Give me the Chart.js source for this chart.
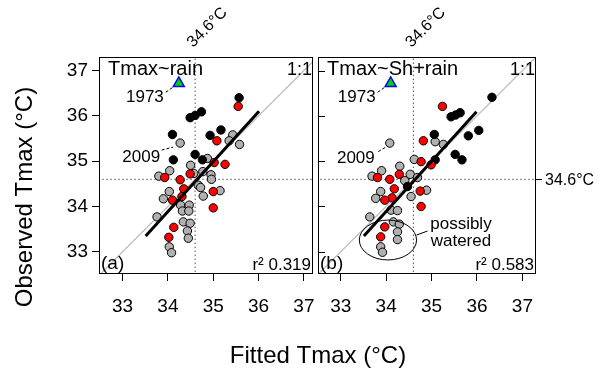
<!DOCTYPE html>
<html><head><meta charset="utf-8">
<script src="https://cdn.jsdelivr.net/npm/chart.js@4.4.1/dist/chart.umd.min.js"></script>
<style>
html,body{margin:0;padding:0;background:#fff;}
#wrap{position:relative;width:601px;height:369px;overflow:hidden;}
canvas{position:absolute;left:0;top:0;}
</style></head>
<body><div id="wrap"><canvas id="ca" width="601" height="369"></canvas><canvas id="cb" width="601" height="369"></canvas></div>
<script>
// ---------------- data ----------------
const tickValues = [33, 34, 35, 36, 37];
const thresholdC = 34.6;
const panelTags = ['(a)', '(b)'];
const modelNames = ['Tmax~rain', 'Tmax~Sh+rain'];
const r2Values = [0.319, 0.583];

// Panel (a): Tmax ~ rain  (x = fitted, y = observed)
const aGreyX  = [34.27,35.43,35.35,35.58,34.87,34.50,34.04,33.80,34.57,34.77,34.95,34.96,34.67,34.72,34.03,35.15,33.90,34.78,34.28,34.47,34.32,34.46,33.76,34.34,34.49,34.43,34.45,34.03,34.08];
const aGreyY  = [35.40,35.58,35.45,35.37,35.06,34.91,34.79,34.67,34.73,34.77,34.70,34.60,34.47,34.42,34.33,34.35,34.17,34.23,34.03,34.03,33.90,33.90,33.77,33.66,33.63,33.46,33.30,33.11,32.98];
const aBlackX = [35.57,34.49,34.60,34.74,34.10,34.93,35.17,34.12,34.60,34.76];
const aBlackY = [36.40,35.96,36.01,36.09,35.59,35.57,35.69,35.03,35.15,35.03];
const aRedX   = [35.55,35.08,35.02,35.26,33.93,34.27,34.49,34.35,34.31,34.10,35.00,35.00,34.13,34.02];
const aRedY   = [36.21,35.45,34.97,34.93,34.64,34.59,34.72,34.39,34.22,34.14,34.33,33.97,33.54,33.32];
const a1973   = [34.24, 36.72];
const a2009   = [34.27, 35.40];
const aFitX   = [33.51, 36.01];
const aFitY   = [33.35, 36.10];

// Panel (b): Tmax ~ Sh + rain
const bGreyX  = [34.08,35.08,35.26,34.62,33.69,33.90,34.30,34.53,34.41,34.69,34.89,34.55,33.88,33.77,34.11,34.25,33.64,34.16,34.29,34.25,34.25,33.88,33.92];
const bGreyY  = [35.40,35.43,35.37,35.04,34.67,34.79,34.89,34.71,34.57,34.64,34.36,34.22,34.33,34.18,33.92,33.91,33.77,33.66,33.61,33.44,33.27,33.11,32.99];
const bBlackX = [36.33,35.43,35.53,35.63,35.06,35.81,36.04,35.08,35.52,35.67,34.47];
const bBlackY = [36.41,35.98,36.02,36.07,35.59,35.56,35.68,35.03,35.15,35.03,34.44];
const bRedX   = [35.24,34.82,34.77,34.99,33.81,34.08,34.29,34.18,34.13,33.97,34.75,34.77,33.97,33.88];
const bRedY   = [36.21,35.45,34.99,34.92,34.64,34.60,34.71,34.39,34.19,34.14,34.34,34.00,33.55,33.33];
const b1973   = [34.10, 36.72];
const b2009   = [34.08, 35.40];
const bFitX   = [33.51, 35.99];
const bFitY   = [33.35, 36.09];
const wateredX = [33.41, 34.67];   // extent of the "possibly watered" ring
const wateredY = [32.82, 33.70];

// ---------------- drawing ----------------
const FONT = "'Liberation Sans', Arial, Helvetica, sans-serif";
const pts = (xs, ys) => xs.map((v, i) => ({x: v, y: ys[i]}));

function leader(ctx, x0, y0, x1, y1) {
  ctx.save(); ctx.setLineDash([3, 2]); ctx.lineWidth = 1;
  ctx.beginPath(); ctx.moveTo(x0, y0); ctx.lineTo(x1, y1); ctx.stroke(); ctx.restore();
}

const annotPlugin = {
  id: 'annot',
  afterDraw(chart, args, o) {
    const {ctx, chartArea: ca, scales: {x, y}} = chart;
    ctx.save();
    ctx.fillStyle = '#000'; ctx.strokeStyle = '#000'; ctx.lineWidth = 1;
    const L = Math.round(ca.left), T = Math.round(ca.top), R = Math.round(ca.right), B = Math.round(ca.bottom);
    ctx.strokeRect(L + 0.5, T + 0.5, R - L - 1, B - T - 1);
    ctx.textBaseline = 'alphabetic';
    ctx.font = `20px ${FONT}`; ctx.textAlign = 'left';
    ctx.fillText(o.model, L + 9, T + 18);
    ctx.font = `18px ${FONT}`; ctx.textAlign = 'right';
    ctx.fillText('1:1', R - 1, T + 18);
    ctx.font = `19px ${FONT}`; ctx.textAlign = 'left';
    ctx.fillText(o.tag, L + 2, B - 5);
    ctx.font = `17px ${FONT}`; ctx.textAlign = 'right';
    ctx.fillText('r\u00B2 ' + o.r2.toFixed(3), R - 2, B - 4);
    // 1973 label
    const tx = x.getPixelForValue(o.p1973[0]), ty = y.getPixelForValue(o.p1973[1]);
    ctx.fillText('1973', tx - 15, ty + 19);
    leader(ctx, tx - 13, ty + 9, tx - 6, ty + 4);
    // 2009 label
    const px = x.getPixelForValue(o.p2009[0]), py = y.getPixelForValue(o.p2009[1]);
    const s = o.lab2009;
    ctx.fillText('2009', px + s[0], py + s[1]);
    leader(ctx, px + s[2], py + s[3], px + s[4], py + s[5]);
    // rotated threshold label above the panel
    ctx.save();
    ctx.translate(x.getPixelForValue(thresholdC) - 2, T - 9);
    ctx.rotate(-45 * Math.PI / 180);
    ctx.font = `16px ${FONT}`; ctx.textAlign = 'left';
    ctx.fillText('34.6\u00B0C', 0, 0);
    ctx.restore();
    if (o.innerTicks) {
      ctx.beginPath();
      tickValues.forEach(v => { const yy = Math.round(y.getPixelForValue(v)) + 0.5; ctx.moveTo(L, yy); ctx.lineTo(L + 7, yy); });
      ctx.stroke();
    }
    if (o.rightLabel) {
      const yy = Math.round(y.getPixelForValue(thresholdC)) + 0.5;
      ctx.beginPath(); ctx.moveTo(R, yy); ctx.lineTo(R + 6, yy); ctx.stroke();
      ctx.font = `16px ${FONT}`; ctx.textAlign = 'left'; ctx.textBaseline = 'middle';
      ctx.fillText('34.6\u00B0C', R + 9, yy + 1);
      ctx.textBaseline = 'alphabetic';
    }
    if (o.watered) {
      const x0 = x.getPixelForValue(wateredX[0]), x1 = x.getPixelForValue(wateredX[1]);
      const y0 = y.getPixelForValue(wateredY[0]), y1 = y.getPixelForValue(wateredY[1]);
      const cx = (x0 + x1) / 2, cy = (y0 + y1) / 2, rx = Math.abs(x1 - x0) / 2, ry = Math.abs(y1 - y0) / 2;
      ctx.beginPath(); ctx.ellipse(cx, cy, rx, ry, 0, 0, Math.PI * 2); ctx.stroke();
      ctx.beginPath(); ctx.moveTo(cx + rx, cy - 5); ctx.lineTo(cx + rx + 11, cy - 9); ctx.stroke();
      ctx.font = `17px ${FONT}`; ctx.textAlign = 'center';
      ctx.fillText('possibly', cx + 73, cy - 11);
      ctx.fillText('watered', cx + 73, cy + 6);
    }
    if (o.yTitle) {
      ctx.save(); ctx.translate(32, 197); ctx.rotate(-Math.PI / 2);
      ctx.font = `24px ${FONT}`; ctx.textAlign = 'center';
      ctx.fillText(o.yTitle, 0, 0); ctx.restore();
    }
    if (o.xTitle) {
      ctx.font = `24px ${FONT}`; ctx.textAlign = 'center';
      ctx.fillText(o.xTitle, 318, 363);
    }
    ctx.restore();
  }
};

function axisX(min, max) {
  return {
    type: 'linear', min, max,
    afterBuildTicks: s => { s.ticks = tickValues.map(v => ({value: v})); },
    afterFit: s => { s.height = 50; },
    grid: {drawOnChartArea: false, drawTicks: true, tickLength: 7, color: '#000', lineWidth: 1},
    border: {display: false},
    ticks: {color: '#000', font: {family: FONT, size: 19}, padding: 14, maxRotation: 0, autoSkip: false}
  };
}
function axisY(min, max, show) {
  return {
    type: 'linear', min, max, display: show, position: 'left',
    afterBuildTicks: s => { s.ticks = tickValues.map(v => ({value: v})); },
    afterFit: s => { s.width = show ? 60 : 0; },
    grid: {drawOnChartArea: false, drawTicks: true, tickLength: 7, color: '#000', lineWidth: 1},
    border: {display: false},
    ticks: {color: '#000', font: {family: FONT, size: 19}, padding: 4, autoSkip: false}
  };
}

function buildPanel(id, d) {
  const dot = (color) => ({backgroundColor: color, borderColor: '#000', borderWidth: 1, pointRadius: 4.2, pointHoverRadius: 4.2});
  return new Chart(document.getElementById(id), {
    type: 'scatter',
    data: {datasets: [
      {label: 'fit', data: pts(d.fitX, d.fitY), showLine: true, borderColor: '#000', borderWidth: 3, pointRadius: 0, backgroundColor: '#000'},
      {label: '1973', data: pts([d.p1973[0]], [d.p1973[1]]), pointStyle: 'triangle', pointRadius: 6.3, backgroundColor: '#00d000', borderColor: '#0000ff', borderWidth: 1.5},
      Object.assign({label: 'red', data: pts(d.redX, d.redY)}, dot('#ff0000')),
      Object.assign({label: 'black', data: pts(d.blackX, d.blackY)}, dot('#000000')),
      Object.assign({label: 'grey', data: pts(d.greyX, d.greyY)}, dot('#b0b0b0')),
      {label: '1:1', data: [{x: 30, y: 30}, {x: 40, y: 40}], showLine: true, borderColor: '#c0c0c0', borderWidth: 1.3, pointRadius: 0},
      {label: 'vthr', data: [{x: thresholdC, y: 30}, {x: thresholdC, y: 40}], showLine: true, borderColor: '#000', borderWidth: 1, borderDash: [1, 3], pointRadius: 0},
      {label: 'hthr', data: [{x: 30, y: thresholdC}, {x: 40, y: thresholdC}], showLine: true, borderColor: '#000', borderWidth: 1, borderDash: [1, 3], pointRadius: 0}
    ]},
    options: {
      responsive: false, animation: false, devicePixelRatio: 1, events: [],
      layout: {padding: d.padding},
      plugins: {legend: {display: false}, tooltip: {enabled: false}, annot: d.annot},
      scales: {x: axisX(d.xMin, d.xMax), y: axisY(32.51, 37.30, d.showY)}
    },
    plugins: [annotPlugin]
  });
}

buildPanel('ca', {
  greyX: aGreyX, greyY: aGreyY, blackX: aBlackX, blackY: aBlackY, redX: aRedX, redY: aRedY,
  p1973: a1973, fitX: aFitX, fitY: aFitY, xMin: 32.48, xMax: 37.20, showY: true,
  padding: {left: 39, top: 57, right: 601 - 313, bottom: 369 - 274 - 50},
  annot: {model: modelNames[0], tag: panelTags[0], r2: r2Values[0], p1973: a1973, p2009: a2009,
          lab2009: [-20, 18.5, -18.5, 7, -7, 4], yTitle: 'Observed Tmax (\u00B0C)'}
});
buildPanel('cb', {
  greyX: bGreyX, greyY: bGreyY, blackX: bBlackX, blackY: bBlackY, redX: bRedX, redY: bRedY,
  p1973: b1973, fitX: bFitX, fitY: bFitY, xMin: 32.50, xMax: 37.30, showY: false,
  padding: {left: 318, top: 57, right: 601 - 536, bottom: 369 - 274 - 50},
  annot: {model: modelNames[1], tag: panelTags[1], r2: r2Values[1], p1973: b1973, p2009: b2009,
          lab2009: [-15, 20, -11.5, 8.5, -3, 3.5], innerTicks: true, rightLabel: true, watered: true,
          xTitle: 'Fitted Tmax (\u00B0C)'}
});
</script>
</body></html>
